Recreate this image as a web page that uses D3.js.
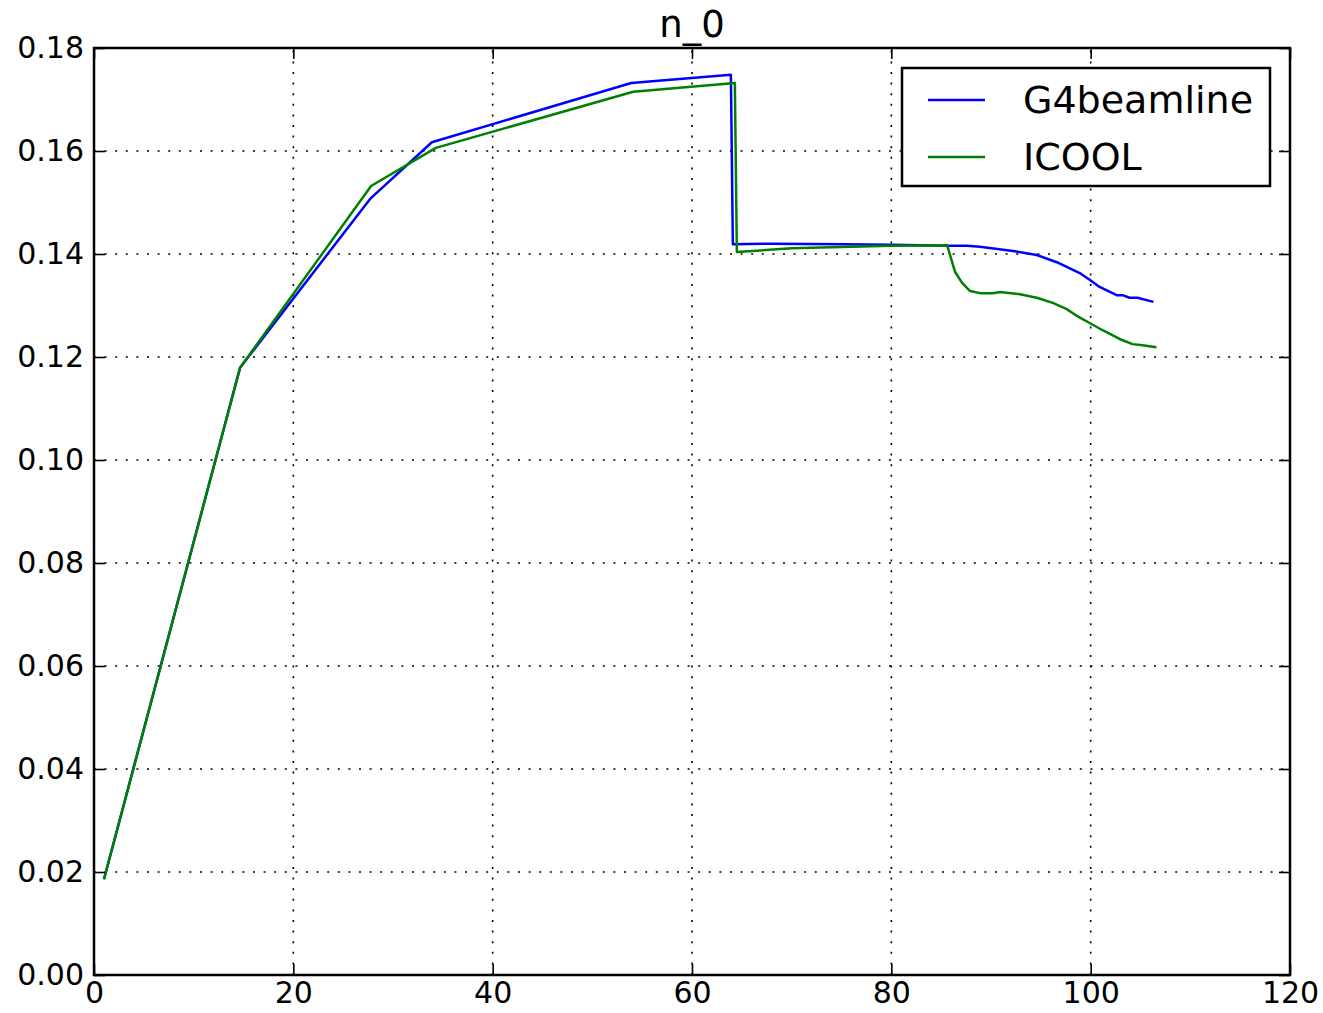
<!DOCTYPE html>
<html><head><meta charset="utf-8">
<script src="https://cdn.jsdelivr.net/npm/d3@7"></script>
<style>body{margin:0;background:#fff;} text{font-family:"DejaVu Sans",sans-serif;}</style>
</head><body>
<svg id="c" width="1323" height="1013"></svg>
<script>
const title = "n_0";
const seriesNames = ["G4beamline", "ICOOL"];
const seriesColors = ["#0000ff", "#008000"];
const g4X = [1, 14.65, 27.7, 33.9, 53.9, 63.9, 64.1, 67.8, 75, 80, 85.6, 87.6, 88.9, 92.2, 94.6, 96.6, 97.6, 98.9, 99.9, 100.9, 102.6, 103.2, 103.9, 104.7, 106.3];
const g4Y = [0.0186, 0.1179, 0.1507, 0.1617, 0.1732, 0.1748, 0.1419, 0.1420, 0.1419, 0.1418, 0.1416, 0.1416, 0.1414, 0.1406, 0.1398, 0.1384, 0.1375, 0.1363, 0.1350, 0.1336, 0.1320, 0.1320, 0.1315, 0.1315, 0.1307];
const icX = [1, 14.65, 27.8, 34.3, 54.1, 64.3, 64.5, 70, 80, 85.6, 86.4, 87.1, 87.9, 88.9, 90.2, 90.9, 92.9, 94.6, 96.2, 97.6, 98.6, 99.9, 101.2, 102.9, 104.2, 105.2, 106.6];
const icY = [0.0186, 0.1179, 0.1532, 0.1606, 0.1715, 0.1732, 0.1404, 0.1411, 0.1416, 0.1417, 0.1365, 0.1344, 0.1328, 0.1324, 0.1324, 0.1326, 0.1322, 0.1315, 0.1305, 0.1293, 0.1280, 0.1266, 0.1252, 0.1235, 0.1225, 0.1223, 0.1219];
const xTicks = [0, 20, 40, 60, 80, 100, 120];
const yTicks = [0, 0.02, 0.04, 0.06, 0.08, 0.10, 0.12, 0.14, 0.16, 0.18];

const svg = d3.select("#c");
const L = 94, R = 1290, T = 48, B = 975;
const x = d3.scaleLinear().domain([0, 120]).range([L, R]);
const y = d3.scaleLinear().domain([0, 0.18]).range([B, T]);

// grid
const grid = svg.append("g").attr("stroke", "#000").attr("stroke-width", 1.6).attr("stroke-dasharray", "2,8.6");
xTicks.slice(1, -1).forEach(t => grid.append("line").attr("x1", x(t)).attr("x2", x(t)).attr("y1", B).attr("y2", T));
yTicks.slice(1, -1).forEach(t => grid.append("line").attr("x1", L).attr("x2", R).attr("y1", y(t)).attr("y2", y(t)));

// lines
const line = d3.line().x(d => x(d[0])).y(d => y(d[1]));
const series = [d3.zip(g4X, g4Y), d3.zip(icX, icY)];
series.forEach((s, i) => {
  svg.append("path").datum(s).attr("d", line).attr("fill", "none")
    .attr("stroke", seriesColors[i]).attr("stroke-width", 2.5).attr("stroke-linejoin", "round");
});

// axes with inward ticks
const ax = d3.axisBottom(x).tickValues(xTicks).tickFormat(d3.format("d")).tickSizeInner(-11).tickSizeOuter(0).tickPadding(7);
const ay = d3.axisLeft(y).tickValues(yTicks).tickFormat(d3.format(".2f")).tickSizeInner(-11).tickSizeOuter(0).tickPadding(10);
const axT = d3.axisTop(x).tickValues(xTicks).tickFormat("").tickSizeInner(-11).tickSizeOuter(0);
const ayR = d3.axisRight(y).tickValues(yTicks).tickFormat("").tickSizeInner(-11).tickSizeOuter(0);
function style(g) {
  g.select(".domain").remove();
  g.selectAll(".tick line").attr("stroke", "#000").attr("stroke-width", 1.6);
  g.selectAll("text").attr("fill", "#000").style("font-size", "30px").style("font-family", "DejaVu Sans");
}
svg.append("g").attr("transform", `translate(0,${B})`).call(ax).call(style);
svg.append("g").attr("transform", `translate(${L},0)`).call(ay).call(style);
svg.append("g").attr("transform", `translate(0,${T})`).call(axT).call(style);
svg.append("g").attr("transform", `translate(${R},0)`).call(ayR).call(style);

svg.append("rect").attr("x", L).attr("y", T).attr("width", R - L).attr("height", B - T)
  .attr("fill", "none").attr("stroke", "#000").attr("stroke-width", 2.5);

// title
svg.append("text").attr("x", (L + R) / 2).attr("y", 37).attr("text-anchor", "middle")
  .style("font-size", "37px").text(title);

// legend
const lg = svg.append("g");
lg.append("rect").attr("x", 902).attr("y", 68).attr("width", 368).attr("height", 118)
  .attr("fill", "#fff").attr("stroke", "#000").attr("stroke-width", 2.5);
seriesNames.forEach((n, i) => {
  const yy = 100 + i * 57;
  lg.append("line").attr("x1", 928).attr("x2", 985).attr("y1", yy).attr("y2", yy)
    .attr("stroke", seriesColors[i]).attr("stroke-width", 2.5);
  lg.append("text").attr("x", 1023).attr("y", yy + 13).style("font-size", "38px").text(n);
});
</script>
</body></html>
